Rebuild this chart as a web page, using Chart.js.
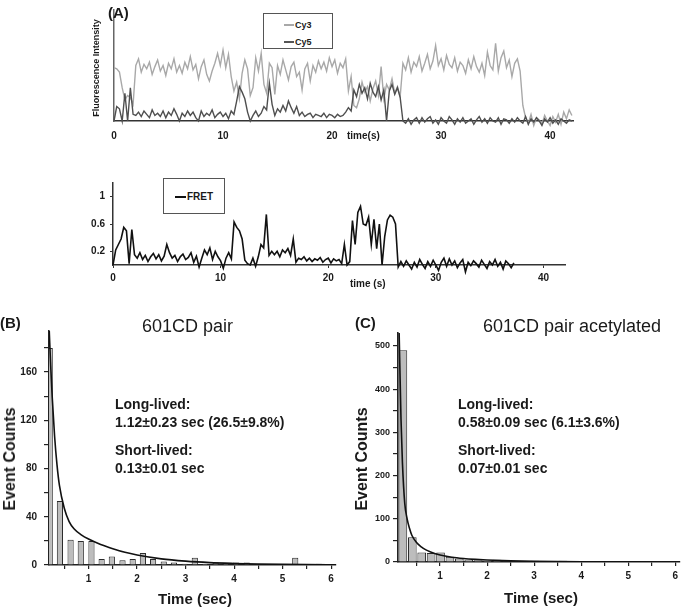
<!DOCTYPE html>
<html>
<head>
<meta charset="utf-8">
<script src="https://cdn.jsdelivr.net/npm/chart.js@4.4.1/dist/chart.umd.min.js"></script>
<style>
  body { margin: 0; background: #fff; }
  #page { position: relative; width: 685px; height: 610px; overflow: hidden; font-family: "Liberation Sans", Arial, sans-serif; color: #1a1a1a; }
  .pane { position: absolute; }
  .t { position: absolute; white-space: nowrap; line-height: 1; transform: translateY(-50%); }
  .c { position: absolute; white-space: nowrap; line-height: 1; transform: translate(-50%, -50%); }
  .rot { position: absolute; white-space: nowrap; line-height: 1; transform: translate(-50%, -50%) rotate(-90deg); }
  .b { font-weight: bold; }
  .legend { position: absolute; border: 1px solid #555; background: #fff; }
  .swatch { position: absolute; height: 1.5px; }
</style>
</head>
<body>
<div id="page">
  <div class="pane" style="left:0;top:0"><canvas id="traceA" width="685" height="150"></canvas></div>
  <div class="pane" style="left:0;top:150px"><canvas id="fretA" width="685" height="140"></canvas></div>
  <div class="pane" style="left:0;top:290px"><canvas id="histB" width="342" height="320"></canvas></div>
  <div class="pane" style="left:342px;top:290px"><canvas id="histC" width="343" height="320"></canvas></div>

  <!-- panel A text -->
  <div class="t b" style="left:108px;top:12px;font-size:15px">(A)</div>
  <div class="rot b" style="left:96px;top:68px;font-size:9px">Fluorescence Intensity</div>
  <div class="t b" style="left:347px;top:136px;font-size:10px">time(s)</div>
  <div class="legend" style="left:263px;top:13px;width:68px;height:34px">
    <div class="swatch" style="left:20px;top:10px;width:10px;background:#a8a8a8"></div>
    <div class="t b" style="left:31px;top:11px;font-size:9px">Cy3</div>
    <div class="swatch" style="left:20px;top:27px;width:10px;background:#555"></div>
    <div class="t b" style="left:31px;top:28px;font-size:9px">Cy5</div>
  </div>
  <div class="legend" style="left:163px;top:178px;width:60px;height:34px">
    <div class="swatch" style="left:11px;top:17px;width:11px;background:#111"></div>
    <div class="t b" style="left:23px;top:18px;font-size:10px;color:#1a1a1a">FRET</div>
  </div>
  <div class="t b" style="left:350px;top:284px;font-size:10px">time (s)</div>

  <!-- panel B text -->
  <div class="t b" style="left:0px;top:322px;font-size:15px">(B)</div>
  <div class="t" style="left:142px;top:326px;font-size:18px">601CD pair</div>
  <div class="t b" style="left:115px;top:404px;font-size:14px">Long-lived:</div>
  <div class="t b" style="left:115px;top:422px;font-size:14px">1.12±0.23 sec (26.5±9.8%)</div>
  <div class="t b" style="left:115px;top:450px;font-size:14px">Short-lived:</div>
  <div class="t b" style="left:115px;top:468px;font-size:14px">0.13±0.01 sec</div>
  <div class="rot b" style="left:10px;top:459px;font-size:16px">Event Counts</div>
  <div class="c b" style="left:195px;top:598px;font-size:15px">Time (sec)</div>

  <!-- panel C text -->
  <div class="t b" style="left:355px;top:322px;font-size:15px">(C)</div>
  <div class="t" style="left:483px;top:326px;font-size:18px">601CD pair acetylated</div>
  <div class="t b" style="left:458px;top:404px;font-size:14px">Long-lived:</div>
  <div class="t b" style="left:458px;top:422px;font-size:14px">0.58±0.09 sec (6.1±3.6%)</div>
  <div class="t b" style="left:458px;top:450px;font-size:14px">Short-lived:</div>
  <div class="t b" style="left:458px;top:468px;font-size:14px">0.07±0.01 sec</div>
  <div class="rot b" style="left:362px;top:459px;font-size:16px">Event Counts</div>
  <div class="c b" style="left:541px;top:597px;font-size:15px">Time (sec)</div>
</div>

<script>
// ---- (A) single-molecule traces, sampled every 0.25 s ----
const dtA = 0.25;
const tickTimeA = [0, 10, 20, 30, 40];

// Cy3 (donor) intensity, arbitrary units (0 = baseline, 100 = top of axis)
const cy3 = [
  48, 47, 44, 30,   19, 23, 21, 15,   50, 56, 44, 51,   47, 53, 42, 49,
  55, 45, 50, 41,   52, 47, 56, 44,   50, 43, 53, 47,   58, 46, 51, 38,
  49, 55, 42, 36,   45, 52, 61, 50,   64, 48, 60, 40,   27, 35, 20, 43,
  55, 47, 23, 30,   57, 45, 61, 33,   25, 52, 48, 24,   50, 42, 55, 46,
  37, 49, 53, 40,   44, 28, 47, 52,   36, 50, 44, 54,   47, 53, 45, 57,
  49, 55, 43, 52,   48, 56, 27, 40,   14, 12, 20, 35,   26, 31, 18, 29,
  36, 23, 49, 20,   33, 28, 38, 25,   31, 22, 52, 46,   57, 44, 53, 49,
  58, 45, 52, 60,   47, 54, 68, 50,   56, 46, 59, 51,   48, 57, 45, 53,
  50, 43, 55, 47,   58, 49, 44, 52,   41, 62, 50, 46,   70, 45, 57, 63,
  48, 55, 40, 52,   56, 45, 14, 3,    -2, 6, -4, 3,    1, -3, 5, 0,
  -4, 4, -1, 6,     -3, 8, 2, 10,     5
];

// Cy5 (acceptor) intensity, same units
const cy5 = [
  0, 13, 11, 0,     25, 0, 30, 6,     5, 8, 4, 9,       6, 3, 10, 5,
  7, 4, 9, 3,       8, 5, 11, 6,      0, 7, 4, 9,       5, 8, 3, 0,
  9, 4, 7, 5,       10, 3, 6, 8,      4, 7, 2, 9,       6, 18, 31, 26,
  20, 8, 0, 5,      9, 4, 7, 13,      10, 34, 15, 5,    11, 8, 14, 9,
  18, 12, 7, 13,    5, 8, 4, 6,       7, 3, 6, 5,       4, 7, 3, 6,
  5, 3, 6, 4,       5, 8, 12, 9,      28, 22, 33, 25,   30, 20, 34, 26,
  22, 31, 19, 28,   0, 27, 33, 24,    30, 21, 0, -2,    2, -3, 1, 3,
  -2, 3, -1, 2,     4, -2, 1, -3,     3, 0, -2, 4,      1, -3, 2, -1,
  3, -2, 0, 2,      -3, 1, 4, -1,     2, -2, 3, 0,      -1, 3, -3, 2,
  1, -2, 2, -1,     3, 0, -2, 4,      -3, 2, -1, 3,     0, -4, 2, -1,
  3, -2, 1, -3,     2, 0, -2, 1,      0
];

// FRET efficiency
const fret = [
  0, 0.22, 0.3, 0.38,        0.55, 0.5, 0.02, 0.52,     0.15, 0.1, 0.18, 0.08,     0.14, 0.05, 0.12, 0.17,
  0.09, 0.15, 0.06, 0.13,    0.3, 0.18, 0.1, 0.14,      0.05, 0.12, 0.16, 0.08,    0.11, 0.18, 0.04, 0.13,
  -0.03, 0.1, 0.22, 0.15,    0.25, 0.08, 0.2, 0.12,     0.06, -0.05, 0.1, 0.18,    0.09, 0.63, 0.55, 0.5,
  0.38, 0.07, 0.02, 0,       0.1, -0.02, 0.12, 0.3,     0.25, 0.74, 0.14, 0.2,     0.15, 0.2, 0.12, 0.22,
  0.18, 0.24, 0.14, 0.38,    0.04, 0.1, 0.08, 0.12,     0.06, 0.1, 0.05, 0.09,     0.07, 0.11, 0.04, 0.08,
  0.1, 0.03, 0.09, 0.06,     0.08, 0.02, 0.3, 0,        0.05, 0.65, 0.3, 0.77,     0.86, 0.6, 0.58, 0.7,
  0.3, 0.67, 0.24, 0.6,      0, 0.42, 0.66, 0.73,       0.7, 0.6, -0.03, 0.05,     -0.02, 0.06, 0, -0.06,
  0.04, -0.03, 0.08, 0.01,   -0.05, 0.05, -0.02, 0.07,  0, -0.08, 0.04, 0.1,       -0.02, 0.09, 0, 0.06,
  -0.04, 0.03, 0.08, -0.1,   0.04, -0.01, 0.06, 0.02,   -0.03, 0.07, 0.01, -0.05,  0.05, 0, 0.08, -0.02,
  0.04, -0.06, 0.06, 0.02,   -0.04, 0.03
];
const fretTicks = [0.2, 0.6, 1];

// ---- (B) dwell-time histogram, 601CD pair ----
const binsB = [0.2, 0.41, 0.63, 0.84, 1.06, 1.27, 1.48, 1.7, 1.91, 2.12, 2.33, 2.55, 2.76, 2.98,
               3.19, 3.4, 3.62, 3.83, 4.04, 4.26, 4.47, 4.68, 4.9, 5.11, 5.26, 5.54, 5.75, 5.96];
const countsB = [180, 53, 21, 20, 20, 5, 7, 4, 5, 10, 5, 3, 2, 1,
                 6, 1, 2, 1, 2, 2, 0, 0, 0, 0, 6, 0, 1, 0];
const fitTimeB = [0.19, 0.22, 0.25, 0.3, 0.35, 0.4, 0.5, 0.6, 0.7, 0.85, 1.0, 1.25, 1.5, 1.75, 2.0, 2.5, 3.0, 3.5, 4.0, 4.5, 5.0, 5.5, 6.1];
const fitCountB = [194, 165, 140, 107, 83, 66, 47, 36, 30, 25, 21.5, 17, 13.5, 10.5, 8.3, 5.1, 3.2, 2.0, 1.3, 0.8, 0.5, 0.3, 0.2];

// ---- (C) dwell-time histogram, 601CD pair acetylated ----
const binsC = [0.21, 0.41, 0.61, 0.81, 1.01, 1.21, 1.41, 1.61, 1.81, 2.01, 2.21, 2.41, 2.61, 2.81, 3.01,
               3.21, 3.41, 3.61, 3.81, 4.01, 4.21, 4.41, 4.61, 4.81, 5.01, 5.21, 5.41, 5.61, 5.81, 6.01];
const countsC = [490, 57, 22, 21, 22, 12, 8, 5, 4, 3, 5, 2, 2, 1, 3,
                 1, 1, 3, 1, 2, 0, 0, 0, 0, 0, 0, 0, 0, 0, 0];
const fitTimeC = [0.13, 0.17, 0.2, 0.25, 0.3, 0.35, 0.4, 0.5, 0.6, 0.7, 0.8, 1.0, 1.25, 1.5, 1.75, 2.0, 2.5, 3.0, 4.0, 5.0, 6.1];
const fitCountC = [530, 330, 230, 135, 100, 78, 62, 45, 35, 28, 23, 16, 11, 8, 6, 4.5, 2.5, 1.5, 0.6, 0.3, 0.1];

const FONT = '"Liberation Sans", Arial, sans-serif';
const INK = '#1a1a1a';

Chart.defaults.animation = false;
Chart.defaults.responsive = false;
Chart.defaults.devicePixelRatio = 1;
Chart.defaults.plugins.legend.display = false;
Chart.defaults.plugins.tooltip.enabled = false;

function setTicks(values) {
    return scale => { scale.ticks = values.map(v => ({ value: v })); };
}

function tickFont(size) {
    return { family: FONT, size: size, weight: 'bold' };
}

// top traces
const timeA = cy3.map((_, i) => i * dtA);
new Chart(document.getElementById('traceA'), {
    type: 'line',
    data: {
        labels: timeA,
        datasets: [
            { label: 'Cy5', data: cy5, borderColor: '#4f4f4f', borderWidth: 1.4, pointRadius: 0, clip: false, order: 0 },
            { label: 'Cy3', data: cy3, borderColor: '#a8a8a8', borderWidth: 1.4, pointRadius: 0, clip: false, order: 1 }
        ]
    },
    options: {
        layout: { padding: { top: 10, right: 112, left: 0, bottom: 0 } },
        scales: {
            x: {
                type: 'linear', min: 0, max: 42.1,
                afterFit: s => { s.height = 29; },
                afterBuildTicks: setTicks(tickTimeA),
                grid: { drawOnChartArea: false, drawTicks: false },
                border: { color: '#333', width: 1.5 },
                ticks: { color: INK, font: tickFont(10), padding: 9, maxRotation: 0, autoSkip: false }
            },
            y: {
                min: 0, max: 100,
                afterFit: s => { s.width = 114; },
                grid: { drawOnChartArea: false, drawTicks: false },
                border: { color: '#666', width: 1.5 },
                ticks: { display: false }
            }
        }
    }
});

// FRET trace
const timeF = fret.map((_, i) => i * dtA);
new Chart(document.getElementById('fretA'), {
    type: 'line',
    data: {
        labels: timeF,
        datasets: [
            { label: 'FRET', data: fret, borderColor: '#111', borderWidth: 1.6, pointRadius: 0, clip: false }
        ]
    },
    options: {
        layout: { padding: { top: 33, right: 120, left: 0, bottom: 0 } },
        scales: {
            x: {
                type: 'linear', min: 0, max: 42,
                afterFit: s => { s.height = 25; },
                afterBuildTicks: setTicks(tickTimeA),
                grid: { drawOnChartArea: false, tickLength: 3, color: '#333' },
                border: { color: '#333', width: 1.5 },
                ticks: { color: INK, font: tickFont(10), padding: 4, maxRotation: 0, autoSkip: false }
            },
            y: {
                min: 0, max: 1.2,
                afterFit: s => { s.width = 113; },
                afterBuildTicks: setTicks(fretTicks),
                grid: { drawOnChartArea: false, tickLength: 3, color: '#333' },
                border: { color: '#333', width: 1.5 },
                ticks: { color: INK, font: tickFont(10), padding: 5, callback: v => String(v) }
            }
        }
    }
});

function histogram(canvasId, bins, counts, fitT, fitY, opts) {
    const minorX = [0.5, 1, 1.5, 2, 2.5, 3, 3.5, 4, 4.5, 5, 5.5, 6];
    return new Chart(document.getElementById(canvasId), {
        type: 'bar',
        data: {
            datasets: [
                {
                    type: 'line',
                    label: 'fit',
                    data: fitT.map((t, i) => ({ x: t, y: fitY[i] })),
                    borderColor: '#111', borderWidth: 1.6, pointRadius: 0,
                    cubicInterpolationMode: 'monotone', order: 0
                },
                {
                    label: 'counts',
                    data: bins.map((t, i) => ({ x: t, y: counts[i] })),
                    backgroundColor: '#bdbdbd', borderColor: '#2b2b2b', borderWidth: 1,
                    categoryPercentage: 1, barPercentage: opts.barPct, order: 1
                }
            ]
        },
        options: {
            layout: { padding: { top: opts.top, right: opts.right, left: 0, bottom: 0 } },
            scales: {
                x: {
                    type: 'linear', min: opts.xMin, max: 6.1, offset: false,
                    afterFit: s => { s.height = opts.xHeight; },
                    afterBuildTicks: setTicks(minorX),
                    grid: { drawOnChartArea: false, offset: false, tickLength: 4, color: '#222', lineWidth: 1.2 },
                    border: { color: '#222', width: 1.6 },
                    ticks: { color: INK, font: tickFont(10), padding: 4, maxRotation: 0, autoSkip: false,
                             callback: v => Number.isInteger(v) ? String(v) : '' }
                },
                y: {
                    min: 0, max: opts.yMax,
                    afterFit: s => { s.width = opts.yWidth; },
                    afterBuildTicks: setTicks(opts.yTicks),
                    grid: { drawOnChartArea: false, tickLength: 5, color: '#222', lineWidth: 1.2 },
                    border: { color: '#222', width: 1.6 },
                    ticks: { color: INK, font: tickFont(opts.yFont), padding: opts.yPad, autoSkip: false,
                             callback: v => v % opts.yLabelStep === 0 ? String(v) : '' }
                }
            }
        }
    });
}

histogram('histB', binsB, countsB, fitTimeB, fitCountB, {
    top: 41, right: 6, xHeight: 45, yWidth: 49, xMin: 0.185, yMax: 194,
    yTicks: [0, 20, 40, 60, 80, 100, 120, 140, 160, 180], yLabelStep: 40,
    yFont: 10, yPad: 7, barPct: 0.85
});

histogram('histC', binsC, countsC, fitTimeC, fitCountC, {
    top: 43, right: 5, xHeight: 48, yWidth: 56, xMin: 0.106, yMax: 530,
    yTicks: [0, 50, 100, 150, 200, 250, 300, 350, 400, 450, 500], yLabelStep: 100,
    yFont: 9, yPad: 3, barPct: 0.92
});
</script>
</body>
</html>
